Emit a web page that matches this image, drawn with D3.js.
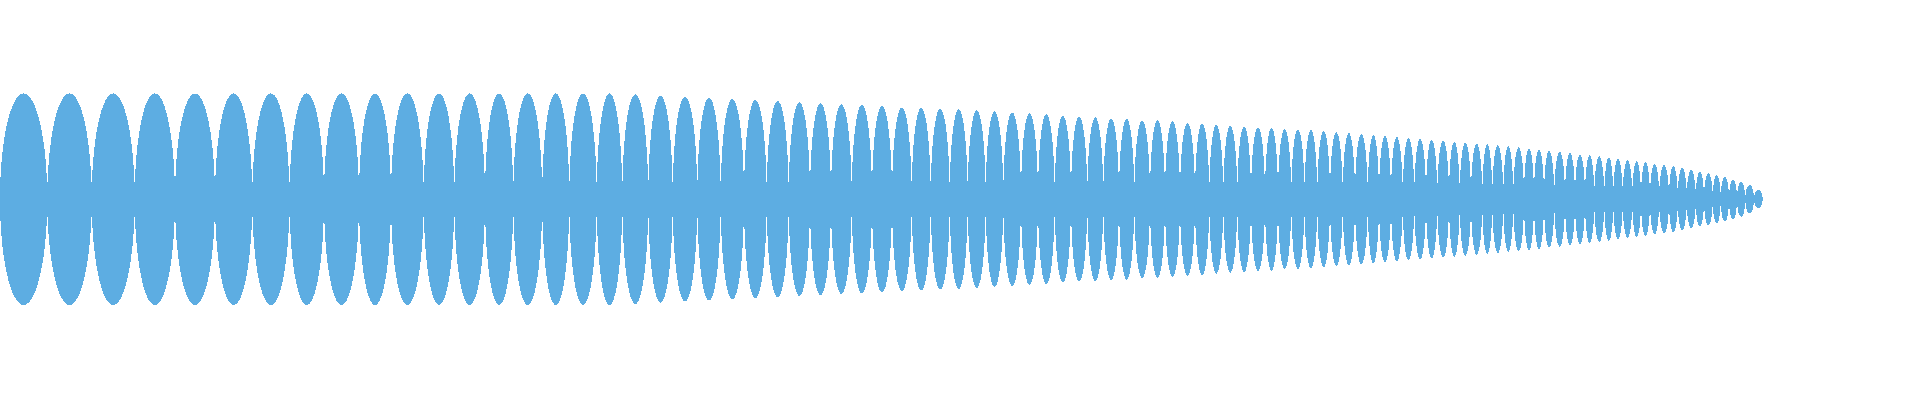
<!DOCTYPE html>
<html lang="en">
<head>
  <meta charset="UTF-8">
  <title>Chirp waveform</title>
  <script src="https://d3js.org/d3.v7.min.js"></script>
  <style>
    body { margin: 0; background: #ffffff; }
    #chart { width: 1920px; height: 400px; }
    .lobe, .band { fill: #5dade2; shape-rendering: crispEdges; }
  </style>
</head>
<body>
  <div id="chart"></div>
  <script>
    // zero-crossing positions (sample index) between the lobes
    const gaps = [
      0, 47.3, 91.7, 134.7, 175, 215, 252.3, 289.5,
      324, 359, 391, 423.7, 454.3, 485, 513.3, 542.2,
      569.3, 596.7, 622.3, 648.3, 672.7, 697.3, 720.7, 744, 766.7, 788.7, 810,
      831, 851.7, 872, 892, 911.7, 930.7, 949.7, 967.7, 985.7, 1003.3, 1021, 1038, 1054.7,
      1071, 1087.3, 1103.3, 1119, 1134.3, 1150, 1165, 1180, 1195, 1209.3, 1223.3, 1237.3, 1251, 1265, 1278, 1291.3, 1304.5,
      1317.3, 1330, 1342.7, 1355, 1367.7, 1379, 1391, 1402.7, 1414.3, 1426, 1437.3, 1449, 1459.7,
      1471, 1482.3, 1492.3, 1503.3, 1513.3, 1524, 1534, 1544, 1554.3, 1565, 1575, 1585, 1594.3, 1604.3, 1613.3, 1622.7, 1632.3, 1641, 1650, 1659.2,
      1669, 1677.7, 1686.7, 1695.7, 1704, 1712.7, 1720.7, 1729, 1737, 1745.3, 1754, 1762.7
    ];

    // level of the signal at each zero crossing (the flat band)
    const floors = [
      17.5, 17.5, 17.5, 17.5, 17.5, 17.5, 17.5, 17.5, 17.5, 17.5,
      17.5, 17.5, 17.5, 17.5, 17.5, 17.5, 17.5, 17.5, 17.5, 17.5,
      17.5, 17.5, 17.5, 17.5, 17.5, 17.5, 17.5, 17.5, 17.5, 17.5,
      17.5, 17.5, 17.5, 17.5, 17.5, 17.5, 17.5, 17.5, 17.5, 17.5,
      17.5, 17.5, 17.5, 17.5, 17.5, 17.5, 17.5, 17.5, 17.5, 17.5,
      17.5, 17.5, 17.5, 17.5, 17.5, 17.5, 17.5, 17.5, 17.5, 17.5,
      17.5, 17.5, 17.5, 17.5, 17.5, 17, 17, 16.5, 16.5, 16,
      16, 15.5, 15.5, 15, 15, 14.5, 14.5, 14, 14, 13.5,
      13.5, 13, 13, 13, 13, 13, 13, 13, 13, 13,
      12, 11.5, 11, 10, 9, 8, 7, 6, 5, 4,
      3, 0
    ];

    // peak amplitude of every lobe
    const peaks = [
      105.9, 105.9, 105.9, 105.9, 105.9, 105.9, 105.9,
      105.9, 105.9, 105.9, 105.9, 105.9, 105.9, 105.9, 105.9,
      105.9, 105.9, 105.9, 104.9, 103.5, 102.5, 101.5, 100.2, 99.2, 98.2, 96.9,
      95.9, 94.9, 94.5, 93.5, 91.9, 91.5, 90.5, 89.9, 88.9, 87.9, 86.9, 85.9, 84.9,
      83.5, 82.5, 81.9, 80.9, 80.5, 78.9, 78.9, 77.9, 76.5, 75.9, 74.5, 73.5, 72.9, 71.9, 71.5, 69.9, 69.9,
      69.2, 68.2, 66.9, 66.2, 65.2, 64.2, 63.2, 62.2, 61.2, 60.2, 59.2, 58.5, 57.5,
      56.5, 55.5, 54.9, 53.9, 52.9, 51.9, 50.9, 49.9, 48.5, 47.5, 46.2, 44.9, 43.9, 42.9, 41.9, 40.5, 38.9, 37.9, 36.9, 35.2,
      34.2, 33.2, 31.5, 29.2, 27.5, 25.9, 24.2, 22.5, 19.9, 17.5, 14.2, 9.2
    ];

    const width = 1920;
    const height = 400;

    const svg = d3.select("#chart")
      .append("svg")
      .attr("width", width)
      .attr("height", height);

    const x = d3.scaleLinear()
      .domain([0, 1920])
      .range([0, width]);

    const y = d3.scaleLinear()
      .domain([-106, 106])
      .range([305.1, 93.3]);

    // flat band running through the zero crossings
    const bandData = gaps.map((g, i) => ({ t: g, v: floors[i] }));
    const band = d3.area()
      .x(d => x(d.t))
      .y0(d => y(-d.v))
      .y1(d => y(d.v));

    svg.append("path")
      .datum(bandData)
      .attr("class", "band")
      .attr("d", band);

    // one lobe per half period, spanning gap to gap
    const lobes = peaks.map((p, i) => ({ t0: gaps[i], t1: gaps[i + 1], v: p }));

    svg.selectAll(".lobe")
      .data(lobes)
      .join("ellipse")
      .attr("class", "lobe")
      .attr("cx", d => x((d.t0 + d.t1) / 2))
      .attr("cy", y(0))
      .attr("rx", d => (x(d.t1) - x(d.t0)) / 2)
      .attr("ry", d => y(0) - y(d.v));
  </script>
</body>
</html>
